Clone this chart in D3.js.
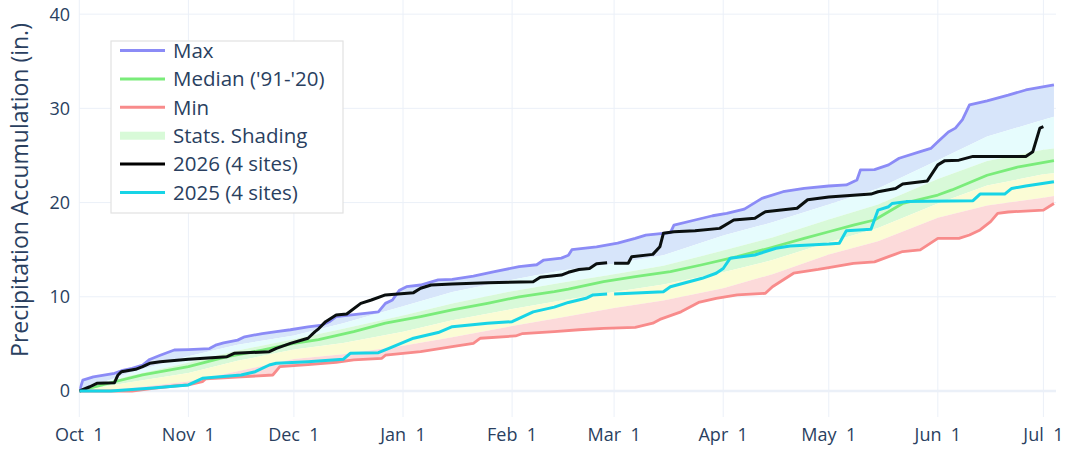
<!DOCTYPE html>
<html>
<head>
<meta charset="utf-8">
<script src="https://cdn.jsdelivr.net/npm/d3@7"></script>
<style>
  body { margin: 0; background: #fff; }
  svg text { font-family: "Open Sans", verdana, arial, sans-serif; fill: #2a3f5f; }
</style>
</head>
<body>
<svg id="chart" width="1069" height="449"></svg>
<script>
// values, water-year dates as "MM-DD" (dummy leap year)
const maxSeries = [
  ["10-01",0],["10-02",1.15],["10-05",1.5],["10-11",1.88],["10-13",2.15],["10-16",2.4],["10-19",2.76],
  ["10-21",3.35],["10-24",3.8],["10-28",4.35],["11-01",4.4],["11-07",4.5],["11-09",4.9],["11-11",5.1],
  ["11-15",5.4],["11-17",5.75],["11-22",6.1],["11-26",6.3],["11-30",6.5],["12-05",6.8],["12-09",7.0],
  ["12-11",7.35],["12-13",7.9],["12-25",8.4],["12-27",9.3],["12-29",9.66],["12-31",10.7],["01-02",11.07],
  ["01-06",11.25],["01-11",11.8],["01-15",11.85],["01-21",12.2],["01-27",12.66],["02-03",13.2],["02-08",13.4],
  ["02-10",13.9],["02-15",14.1],["02-17",14.4],["02-18",15.0],["02-25",15.3],["03-02",15.7],["03-07",16.2],
  ["03-10",16.55],["03-17",16.8],["03-18",17.6],["03-24",18.15],["03-29",18.6],["04-02",18.85],["04-07",19.3],
  ["04-12",20.45],["04-18",21.15],["04-24",21.5],["05-01",21.76],["05-06",21.87],["05-09",22.4],["05-10",23.46],
  ["05-14",23.5],["05-18",24.0],["05-21",24.7],["05-27",25.4],["05-30",25.75],["06-01",26.46],["06-04",27.5],
  ["06-06",27.9],["06-08",28.8],["06-10",30.36],["06-15",30.8],["06-21",31.4],["06-26",31.95],["07-04",32.5]
];
const medianSeries = [
  ["10-01",0],["10-11",0.98],["10-19",1.7],["11-01",2.58],["11-12",3.64],["11-22",4.35],["12-01",5.06],
  ["12-08",5.45],["12-18",6.3],["12-27",7.2],["01-06",7.9],["01-15",8.6],["01-25",9.3],["02-03",10.0],
  ["02-13",10.54],["02-17",10.8],["02-27",11.6],["03-07",12.13],["03-17",12.66],["03-26",13.4],["04-05",14.26],
  ["04-14",15.15],["04-24",16.2],["05-01",16.9],["05-08",17.6],["05-14",18.15],["05-22",19.9],["06-01",20.8],
  ["06-05",21.34],["06-15",22.9],["06-24",23.8],["07-04",24.45]
];
const minSeries = [
  ["10-01",0],["10-16",0],["10-22",0.28],["10-28",0.53],["11-01",0.64],["11-05",1.0],["11-06",1.3],
  ["11-16",1.5],["11-25",1.7],["11-27",2.58],["12-05",2.8],["12-13",3.05],["12-18",3.3],["12-26",3.47],
  ["12-27",3.8],["01-06",4.17],["01-15",4.7],["01-21",5.06],["01-23",5.6],["02-02",5.84],["02-04",6.1],
  ["02-13",6.3],["02-20",6.5],["02-27",6.65],["03-07",6.76],["03-12",7.2],["03-14",7.6],["03-20",8.4],
  ["03-25",9.4],["03-30",9.84],["04-05",10.2],["04-13",10.37],["04-15",11.07],["04-21",12.5],["04-28",12.9],
  ["05-01",13.1],["05-08",13.55],["05-14",13.7],["05-18",14.26],["05-22",14.8],["05-27",14.97],["06-01",16.2],
  ["06-07",16.2],["06-10",16.56],["06-13",17.1],["06-16",17.97],["06-18",18.86],["06-21",19.0],["07-01",19.2],
  ["07-04",19.9]
];
const wy2026 = [
  ["10-01",0],["10-04",0.45],["10-06",0.81],["10-11",0.88],["10-12",1.7],["10-13",2.05],["10-17",2.3],
  ["10-19",2.58],["10-21",2.94],["10-24",3.1],["11-01",3.36],["11-12",3.64],["11-14",4.0],["11-24",4.17],
  ["11-26",4.53],["11-30",5.05],["12-05",5.6],["12-07",6.3],["12-08",6.6],["12-10",7.36],["12-13",8.07],
  ["12-16",8.17],["12-20",9.3],["12-23",9.66],["12-27",10.2],["01-04",10.44],["01-06",10.9],["01-09",11.25],
  ["01-15",11.36],["01-25",11.5],["02-07",11.6],["02-09",12.07],["02-15",12.3],["02-17",12.6],["02-20",12.9],
  ["02-23",13.0],["02-25",13.5],["02-28",13.6],["02-29",null],["03-01",13.56],["03-05",13.56],["03-06",14.26],
  ["03-12",14.5],["03-14",15.3],["03-15",16.74],["03-18",16.9],["03-24",17.0],["03-31",17.26],["04-04",18.15],
  ["04-10",18.33],["04-13",19.03],["04-22",19.4],["04-25",20.3],["05-01",20.6],["05-13",20.9],["05-15",21.15],
  ["05-20",21.5],["05-22",21.97],["05-29",22.3],["06-01",24.0],["06-03",24.45],["06-07",24.5],["06-11",24.9],
  ["06-26",24.9],["06-28",25.4],["06-30",27.9],["07-01",28.06]
];
const wy2025 = [
  ["10-01",0],["10-10",0],["10-21",0.3],["11-01",0.64],["11-05",1.35],["11-16",1.7],["11-20",2.05],
  ["11-24",2.76],["11-26",2.94],["12-05",3.1],["12-15",3.36],["12-17",4.0],["12-25",4.07],["12-28",4.53],
  ["01-04",5.6],["01-11",6.2],["01-15",6.83],["01-25",7.2],["02-01",7.36],["02-07",8.4],["02-13",8.9],
  ["02-17",9.4],["02-22",9.84],["02-24",10.2],["02-28",10.3],["02-29",null],["03-01",10.3],["03-15",10.54],
  ["03-17",11.07],["03-26",11.96],["03-30",12.5],["04-01",13.0],["04-03",14.1],["04-10",14.44],["04-16",15.15],
  ["04-20",15.4],["05-01",15.6],["05-04",15.68],["05-06",17.0],["05-13",17.16],["05-15",19.2],["05-18",19.56],
  ["05-19",19.9],["05-23",20.1],["06-11",20.2],["06-13",20.9],["06-20",20.9],["06-22",21.5],["06-26",21.76],
  ["07-04",22.2]
];

// percentile shading edges
const pctDates = ["10-01","10-15","11-01","11-15","12-01","12-15","01-01","01-15","02-01","02-15",
                  "03-01","03-15","04-01","04-15","05-01","05-15","06-01","06-15","07-01","07-04"];
const p90 = [0,1.9,3.7,4.9,5.9,7.2,9.0,10.5,11.8,12.8,13.5,14.4,16.5,17.9,19.8,21.5,24.5,27.0,28.8,29.1];
const p70 = [0,1.6,3.0,4.3,5.5,6.6,8.0,9.3,10.6,11.5,12.4,13.3,14.9,16.3,18.2,19.8,22.5,24.4,25.6,25.75];
const p30 = [0,0.9,1.9,3.2,4.4,5.1,6.3,7.5,8.7,9.6,10.5,11.3,12.6,13.9,15.8,17.3,19.9,21.8,23.0,23.1];
const p10 = [0,0.3,1.0,2.1,3.4,3.9,4.8,5.7,6.9,7.8,8.8,9.6,10.9,12.4,14.5,15.9,18.4,19.7,20.5,20.7];

const yTicks = [0, 10, 20, 30, 40];
const legendItems = [
  {name: "Max", color: "#8b8bf6", kind: "line"},
  {name: "Median ('91-'20)", color: "#7aec7a", kind: "line"},
  {name: "Min", color: "#f88b8b", kind: "line"},
  {name: "Stats. Shading", color: "#d8fad8", kind: "rect"},
  {name: "2026 (4 sites)", color: "#000000", kind: "line"},
  {name: "2025 (4 sites)", color: "#17d4e6", kind: "line"}
];

const parse = d3.timeParse("%Y-%m-%d");
function toDate(md) {
  let m = +md.slice(0, 2);
  return parse((m >= 10 ? "2019-" : "2020-") + md);
}
const pts = s => s.map(d => [toDate(d[0]), d[1]]);
const pctPts = vals => pctDates.map((d, i) => [toDate(d), vals[i]]);

const svg = d3.select("#chart");
const plotLeft = 79.3, plotRight = 1056, plotTop = 0, plotBottom = 417;

let x = d3.scaleTime()
  .domain([new Date(2019, 9, 1), new Date(2020, 6, 4, 14)])
  .range([plotLeft, plotRight]);
let y = d3.scaleLinear().domain([-2.76, 41.5]).range([plotBottom, plotTop]);

// grid
let grid = svg.append("g");
let months = d3.timeMonth.range(new Date(2019, 9, 1), new Date(2020, 6, 2));
grid.append("g").selectAll("line").data(months).join("line")
  .attr("x1", d => x(d)).attr("x2", d => x(d))
  .attr("y1", plotTop).attr("y2", plotBottom)
  .attr("stroke", "#ebf0f8").attr("stroke-width", 1);
grid.append("g").selectAll("line").data(yTicks).join("line")
  .attr("x1", plotLeft).attr("x2", plotRight)
  .attr("y1", d => y(d)).attr("y2", d => y(d))
  .attr("stroke", "#ebf0f8").attr("stroke-width", d => d === 0 ? 2.5 : 1);

svg.append("clipPath").attr("id", "clip")
  .append("rect").attr("x", plotLeft).attr("y", plotTop)
  .attr("width", plotRight - plotLeft).attr("height", plotBottom - plotTop);
let plot = svg.append("g").attr("clip-path", "url(#clip)");

let line = d3.line().defined(d => d[1] !== null).x(d => x(d[0])).y(d => y(d[1]));

// shaded bands: polygon = upper edge forward + lower edge backward
function band(upper, lower, color) {
  let poly = upper.concat(lower.slice().reverse());
  plot.append("path").attr("d", line(poly) + "Z").attr("fill", color).attr("stroke", "none");
}
band(pts(maxSeries), pctPts(p90), "#d7e5fa");
band(pctPts(p90), pctPts(p70), "#e6fcfd");
band(pctPts(p70), pctPts(p30), "#d8f9d8");
band(pctPts(p30), pctPts(p10), "#fbfcd5");
band(pctPts(p10), pts(minSeries), "#fcdada");

function drawLine(series, color, width) {
  plot.append("path").datum(pts(series))
    .attr("d", line)
    .attr("fill", "none")
    .attr("stroke", color)
    .attr("stroke-width", width)
    .attr("stroke-linejoin", "round");
}
drawLine(maxSeries, "#8b8bf6", 2.8);
drawLine(medianSeries, "#7aec7a", 2.8);
drawLine(minSeries, "#f88b8b", 2.8);
drawLine(wy2026, "#0a0f0f", 3);
drawLine(wy2025, "#17d4e6", 3);

// axes labels
svg.append("g").selectAll("text").data(months).join("text")
  .attr("x", d => x(d)).attr("y", 441)
  .attr("text-anchor", "middle")
  .attr("xml:space", "preserve")
  .style("white-space", "pre")
  .style("font-size", "18px")
  .text(d3.timeFormat("%b %e"));

svg.append("g").selectAll("text").data(yTicks).join("text")
  .attr("x", 70).attr("y", d => y(d))
  .attr("dy", "0.36em")
  .attr("text-anchor", "end")
  .style("font-size", "18px")
  .text(d => d);

svg.append("text")
  .attr("transform", "translate(28,190) rotate(-90)")
  .attr("text-anchor", "middle")
  .style("font-size", "23px")
  .text("Precipitation Accumulation (in.)");

// legend
let legend = svg.append("g").attr("transform", "translate(111,41)");
legend.append("rect")
  .attr("width", 232).attr("height", 172)
  .attr("fill", "#fff").attr("stroke", "#e2e2e2").attr("stroke-width", 1.2);
let items = legend.selectAll("g").data(legendItems).join("g")
  .attr("transform", (d, i) => "translate(0," + (9.5 + 28.4 * i) + ")");
items.filter(d => d.kind === "line").append("line")
  .attr("x1", 9).attr("x2", 54).attr("y1", 0).attr("y2", 0)
  .attr("stroke", d => d.color).attr("stroke-width", 3);
items.filter(d => d.kind === "rect").append("rect")
  .attr("x", 9).attr("width", 45).attr("y", -4).attr("height", 8)
  .attr("fill", d => d.color);
items.append("text")
  .attr("x", 62).attr("y", 0).attr("dy", "0.36em")
  .style("font-size", "20.5px")
  .text(d => d.name);
</script>
</body>
</html>
